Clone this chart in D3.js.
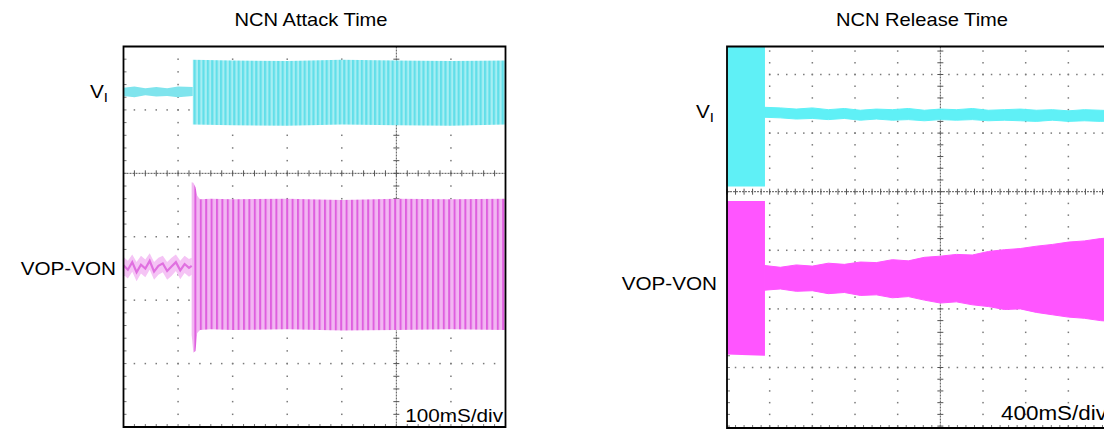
<!DOCTYPE html>
<html>
<head>
<meta charset="utf-8">
<script src="https://cdn.jsdelivr.net/npm/d3@7/dist/d3.min.js"></script>
<style>
  body{margin:0;background:#fff}
  svg{display:block;font-family:'Liberation Sans',Arial,sans-serif}
</style>
</head>
<body>
<svg></svg>
<script>
const WIDTH = 1104
const HEIGHT = 431

// NCN Attack Time (100mS/div), traces in divisions from the centre axis
const attackViQuietT  = [0, 20, 40, 60, 80, 100, 127]
const attackViQuietHi = [1.35, 1.37, 1.34, 1.36, 1.34, 1.37, 1.36]
const attackViQuietLo = [1.22, 1.2, 1.23, 1.21, 1.22, 1.2, 1.22]
const attackViBurstT  = [127, 200, 300, 400, 500, 600, 700]
const attackViBurstHi = [1.79, 1.78, 1.77, 1.79, 1.78, 1.77, 1.78]
const attackViBurstLo = [0.77, 0.76, 0.75, 0.77, 0.76, 0.75, 0.77]

const attackVoQuietT   = [0, 8, 16, 24, 32, 40, 48, 56, 64, 72, 80, 88, 96, 104, 112, 120, 125]
const attackVoQuietMid = [-1.45, -1.52, -1.4, -1.56, -1.44, -1.5, -1.38, -1.55, -1.46, -1.42, -1.54, -1.47, -1.4, -1.53, -1.43, -1.49, -1.46]
const attackVoQuietHi  = [-1.32, -1.38, -1.28, -1.4, -1.3, -1.36, -1.26, -1.4, -1.33, -1.3, -1.4, -1.33, -1.28, -1.38, -1.3, -1.35, -1.33]
const attackVoQuietLo  = [-1.6, -1.66, -1.55, -1.7, -1.58, -1.64, -1.52, -1.68, -1.6, -1.56, -1.68, -1.62, -1.54, -1.67, -1.57, -1.63, -1.6]
const attackVoBurstT   = [125, 128, 132, 135, 140, 160, 200, 300, 400, 500, 600, 700]
const attackVoBurstHi  = [-0.14, -0.15, -0.22, -0.35, -0.41, -0.4, -0.41, -0.4, -0.42, -0.4, -0.41, -0.4]
const attackVoBurstLo  = [-2.55, -2.83, -2.8, -2.52, -2.47, -2.46, -2.47, -2.46, -2.48, -2.47, -2.46, -2.47]

// NCN Release Time (400mS/div)
const releaseBlockT  = [0, 356]
const releaseViBlockHi = [2.6, 2.6]
const releaseViBlockLo = [0.09, 0.09]
const releaseVoBlockHi = [-0.16, -0.16]
const releaseVoBlockLo = [-2.78, -2.8]

const releaseBandT = [356, 500, 650, 800, 950, 1100, 1250, 1400, 1550, 1700, 1850, 2000, 2150, 2300, 2450, 2600, 2750, 2900, 3050, 3200, 3350, 3500, 3650, 3800]
const releaseViHi = [1.44, 1.43, 1.41, 1.43, 1.4, 1.42, 1.39, 1.41, 1.4, 1.42, 1.39, 1.41, 1.4, 1.42, 1.39, 1.4, 1.41, 1.39, 1.4, 1.38, 1.4, 1.39, 1.38, 1.39]
const releaseViLo = [1.27, 1.26, 1.24, 1.25, 1.23, 1.25, 1.22, 1.24, 1.22, 1.23, 1.21, 1.23, 1.22, 1.23, 1.21, 1.22, 1.21, 1.2, 1.22, 1.2, 1.21, 1.2, 1.21, 1.2]
const releaseVoHi = [-1.26, -1.29, -1.25, -1.27, -1.22, -1.24, -1.2, -1.21, -1.16, -1.18, -1.12, -1.1, -1.07, -1.08, -1.02, -0.99, -0.97, -0.93, -0.9, -0.86, -0.84, -0.8, -0.78, -0.74]
const releaseVoLo = [-1.68, -1.66, -1.7, -1.69, -1.74, -1.72, -1.77, -1.76, -1.81, -1.79, -1.85, -1.9, -1.88, -1.93, -1.96, -2.01, -2.0, -2.06, -2.1, -2.14, -2.16, -2.2, -2.22, -2.26]

const CYAN = '#5ff0f6'
const MAGENTA = '#ff55ff'

const svg = d3.select('svg')
  .attr('width',WIDTH)
  .attr('height',HEIGHT)
const defs = svg.append('defs')

const stripes = (id,period,bg,fg,w) => {
  const p = defs.append('pattern')
    .attr('id',id)
    .attr('patternUnits','userSpaceOnUse')
    .attr('width',period)
    .attr('height',10)
  p.append('rect').attr('width',period).attr('height',10).attr('fill',bg)
  p.append('rect').attr('width',w).attr('height',10).attr('fill',fg)
}
stripes('viBurst',4.4,'#a6eef3','#62dfe9',2.2)
stripes('voBurst',5.4,'#f2b6f2','#df5fdf',2)

const band = (t,hi,lo) => d3.zip(t,hi,lo).map(([t,hi,lo]) => ({t,hi,lo}))

function panel(cfg){
  const x = d3.scaleLinear().domain(cfg.xDomain).range(cfg.xRange)
  const y = d3.scaleLinear().domain([-4,2]).range(cfg.yRange)
  const g = svg.append('g')
  const [bx0,by0,bx1,by1] = cfg.box

  defs.append('clipPath').attr('id',cfg.id+'-clip')
    .append('rect').attr('x',bx0).attr('y',by0).attr('width',bx1-bx0).attr('height',by1-by0)

  // dotted division lines
  const xMinor = d3.range(cfg.xDomain[0],x.invert(bx1)+1e-6,cfg.xStep/5)
  const yMinor = d3.range(-4,y.invert(by0),0.2).filter(v => y(v) > by0+1 && y(v) < by1-1)
  const dots = []
  cfg.xGrid.forEach(t => yMinor.forEach(v => dots.push([x(t),y(v)])))
  cfg.yGrid.forEach(v => xMinor.forEach(t => dots.push([x(t),y(v)])))
  g.append('g').selectAll('rect')
    .data(dots.filter(d => d[0] > bx0+1 && d[0] < bx1-1))
    .enter().append('rect')
    .attr('x',d => d[0]-0.75)
    .attr('y',d => d[1]-0.75)
    .attr('width',1.5)
    .attr('height',1.5)
    .attr('fill','#7a7a7a')

  // centre axes with minor ticks
  const ax = g.append('g').attr('stroke','#555').attr('stroke-width',1)
  ax.append('line')
    .attr('x1',bx0).attr('x2',bx1).attr('y1',y(0)).attr('y2',y(0))
    .attr('stroke-dasharray','2,1')
  ax.append('line')
    .attr('x1',x(cfg.xAxis)).attr('x2',x(cfg.xAxis)).attr('y1',by0).attr('y2',by1)
    .attr('stroke-dasharray','2,1')
  ax.selectAll('.tx').data(xMinor).enter().append('line')
    .attr('x1',d => x(d)).attr('x2',d => x(d))
    .attr('y1',y(0)-3).attr('y2',y(0)+3)
  ax.selectAll('.ty').data(yMinor).enter().append('line')
    .attr('x1',x(cfg.xAxis)-3).attr('x2',x(cfg.xAxis)+3)
    .attr('y1',d => y(d)).attr('y2',d => y(d))
  // border ticks
  ax.selectAll('.lt').data(yMinor).enter().append('line')
    .attr('stroke','#777')
    .attr('x1',bx0).attr('x2',bx0+3)
    .attr('y1',d => y(d)).attr('y2',d => y(d))
  ax.selectAll('.bt').data(xMinor.filter(t => x(t) > bx0+1 && x(t) < bx1-1)).enter().append('line')
    .attr('stroke','#777')
    .attr('x1',d => x(d)).attr('x2',d => x(d))
    .attr('y1',by1).attr('y2',by1-3)

  const traces = g.append('g').attr('clip-path',`url(#${cfg.id}-clip)`)
  const area = d3.area()
    .x(d => x(d.t))
    .y0(d => y(d.lo))
    .y1(d => y(d.hi))
  cfg.areas.forEach(a => {
    traces.append('path')
      .datum(a.data)
      .attr('d',area)
      .attr('fill',a.fill)
      .attr('stroke',a.stroke || 'none')
      .attr('stroke-width',a.strokeWidth || 0)
  })
  ;(cfg.lines || []).forEach(l => {
    traces.append('path')
      .datum(l.data)
      .attr('d',d3.line().x(d => x(d.t)).y(d => y(d.v)))
      .attr('fill','none')
      .attr('stroke',l.stroke)
      .attr('stroke-width',l.width)
  })

  g.append('path')
    .attr('d',`M${bx1},${by0}H${bx0}V${by1}H${bx1}` + (cfg.openRight ? '' : 'Z'))
    .attr('fill','none')
    .attr('stroke','#000')
    .attr('stroke-width',1.8)
}

panel({
  id:'attack',
  xDomain:[0,700], xRange:[123.5,505.5], yRange:[427,46.5],
  box:[123.5,46.5,505.5,427],
  xStep:100, xAxis:500,
  xGrid:[100,200,300,400,600], yGrid:[-3,-2,-1,1],
  areas:[
    {data:band(attackViQuietT,attackViQuietHi,attackViQuietLo),fill:'#7fe4ed'},
    {data:band(attackViBurstT,attackViBurstHi,attackViBurstLo),fill:'url(#viBurst)'},
    {data:band(attackVoQuietT,attackVoQuietHi,attackVoQuietLo),fill:'#f5c4f5'},
    {data:band(attackVoBurstT,attackVoBurstHi,attackVoBurstLo),fill:'url(#voBurst)'}
  ],
  lines:[
    {data:d3.zip(attackVoQuietT,attackVoQuietMid).map(([t,v]) => ({t,v})),stroke:'#e070e0',width:2.2}
  ]
})

panel({
  id:'release',
  xDomain:[0,4000], xRange:[727,1153.7], yRange:[426.1,74.5],
  box:[727,46.5,1110,428],
  xStep:400, xAxis:2000, openRight:true,
  xGrid:[400,800,1200,1600,2400,2800,3200], yGrid:[-3,-2,-1,1,2],
  areas:[
    {data:band(releaseBlockT,releaseViBlockHi,releaseViBlockLo),fill:CYAN},
    {data:band(releaseBandT,releaseViHi,releaseViLo),fill:CYAN,stroke:CYAN,strokeWidth:1},
    {data:band(releaseBlockT,releaseVoBlockHi,releaseVoBlockLo),fill:MAGENTA},
    {data:band(releaseBandT,releaseVoHi,releaseVoLo),fill:MAGENTA,stroke:MAGENTA,strokeWidth:1}
  ]
})

// text
const label = (x,y,txt,anchor,size,sx) => svg.append('text')
  .attr('transform',`translate(${x},${y}) scale(${sx || 1.15},1)`)
  .attr('text-anchor',anchor)
  .attr('font-size',size)
  .attr('fill','#000')
  .text(txt)

label(311,25.5,'NCN Attack Time','middle',17.5)
label(922,25.5,'NCN Release Time','middle',17.5)
label(116,275,'VOP-VON','end',18)
label(717,290,'VOP-VON','end',18)
label(503,422,'100mS/div','end',18)
label(1001,420,'400mS/div','start',19.5)

const vi = (x,y) => {
  const t = label(x,y,'V','end',18)
  t.append('tspan').attr('font-size',13).attr('dy',3.5).text('I')
}
vi(108,98)
vi(714,118)
</script>
</body>
</html>
